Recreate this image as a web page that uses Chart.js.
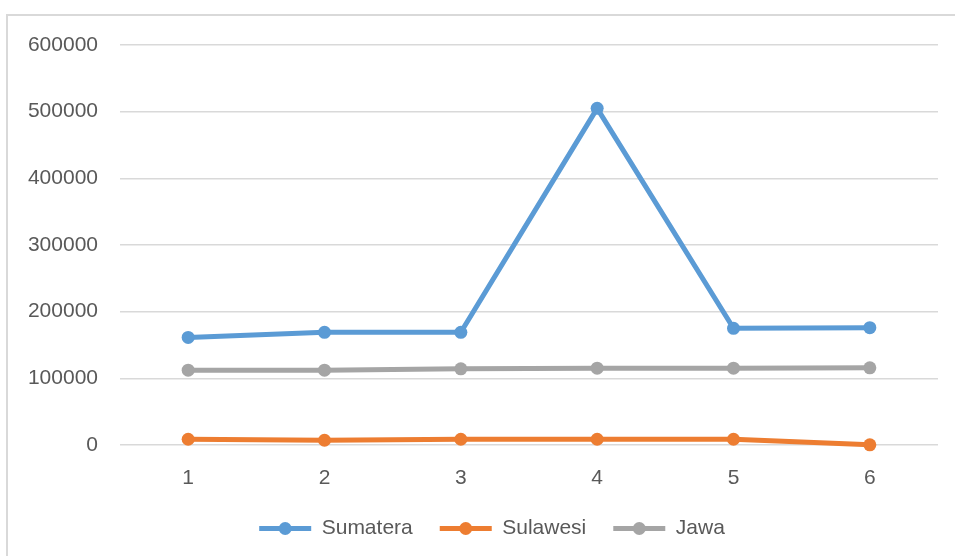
<!DOCTYPE html>
<html lang="id">
<head>
  <meta charset="UTF-8" />
  <title>Grafik Sumatera Sulawesi Jawa</title>
  <script src="https://cdn.jsdelivr.net/npm/chart.js"></script>
  <style>
    body {
      margin: 0;
      background: #fff;
      width: 955px;
      height: 556px;
      overflow: hidden;
      position: relative;
    }
    .frame {
      position: absolute;
      left: 6px;
      top: 14px;
      width: 1000px;
      height: 600px;
      border: 2px solid #d9d9d9;
    }
    .chart-box {
      position: absolute;
      left: 0;
      top: 0;
      width: 955px;
      height: 556px;
    }
  </style>
</head>
<body>
  <div class="frame"></div>
  <div class="chart-box"><canvas id="chart"></canvas></div>

  <script>
    // data
    const categories = ["1", "2", "3", "4", "5", "6"];
    const sumatera = [161400, 169000, 169000, 505000, 175000, 176000];
    const sulawesi = [8600, 7100, 8600, 8600, 8600, 300];
    const jawa = [112200, 112300, 114200, 115200, 115300, 115700];
    const yTicks = [0, 100000, 200000, 300000, 400000, 500000, 600000];

    const seriesNames = ["Sumatera", "Sulawesi", "Jawa"];
    const seriesColors = ["#5B9BD5", "#ED7D31", "#A5A5A5"];
    const seriesData = [sumatera, sulawesi, jawa];

    const textColor = "#595959";
    const fontFamily = "'Liberation Sans', Arial, sans-serif";

    // nudge the legend a bit right, like the original
    const legendShift = {
      id: "legendShift",
      afterLayout(chart) {
        const lg = chart.legend;
        if (!lg) return;
        lg.left += 23;
        lg.right += 23;
      }
    };

    // draw the round marker in the middle of each legend line
    const legendMarkers = {
      id: "legendMarkers",
      afterDraw(chart) {
        const lg = chart.legend;
        if (!lg || !lg.legendHitBoxes) return;
        const ctx = chart.ctx;
        const bw = lg.options.labels.boxWidth;
        lg.legendHitBoxes.forEach((box, i) => {
          ctx.save();
          ctx.fillStyle = seriesColors[i];
          ctx.beginPath();
          ctx.arc(box.left + bw / 2, box.top + box.height / 2, 6.5, 0, Math.PI * 2);
          ctx.fill();
          ctx.restore();
        });
      }
    };

    new Chart(document.getElementById("chart"), {
      type: "line",
      data: {
        labels: categories,
        datasets: seriesNames.map((name, i) => ({
          label: name,
          data: seriesData[i],
          borderColor: seriesColors[i],
          backgroundColor: seriesColors[i],
          borderWidth: 5,
          pointRadius: 6.5,
          pointHoverRadius: 6.5,
          pointBackgroundColor: seriesColors[i],
          pointBorderWidth: 0,
          tension: 0,
          fill: false,
          clip: false
        }))
      },
      plugins: [legendShift, legendMarkers],
      options: {
        responsive: true,
        maintainAspectRatio: false,
        animation: false,
        layout: { padding: { left: 0, right: 17, top: 45, bottom: 7 } },
        plugins: {
          tooltip: { enabled: false },
          legend: {
            position: "bottom",
            labels: {
              color: textColor,
              font: { family: fontFamily, size: 21 },
              boxWidth: 52,
              boxHeight: 5,
              padding: 27,
              generateLabels: (chart) => seriesNames.map((name, i) => ({
                text: name,
                fillStyle: seriesColors[i],
                strokeStyle: seriesColors[i],
                lineWidth: 0,
                fontColor: textColor,
                datasetIndex: i
              }))
            }
          }
        },
        scales: {
          x: {
            offset: true,
            afterFit: (scale) => { scale.height = 46; },
            grid: { display: false, drawTicks: false },
            border: { display: false },
            ticks: {
              color: textColor,
              font: { family: fontFamily, size: 21 },
              padding: 21
            }
          },
          y: {
            min: 0,
            max: 600000,
            afterFit: (scale) => { scale.width = 120; },
            afterBuildTicks: (scale) => {
              scale.ticks = yTicks.map((v) => ({ value: v }));
            },
            grid: { color: "#D9D9D9", lineWidth: 1.5, drawTicks: false },
            border: { display: false },
            ticks: {
              color: textColor,
              font: { family: fontFamily, size: 21 },
              padding: 22,
              callback: (v) => String(v)
            }
          }
        }
      }
    });
  </script>
</body>
</html>
